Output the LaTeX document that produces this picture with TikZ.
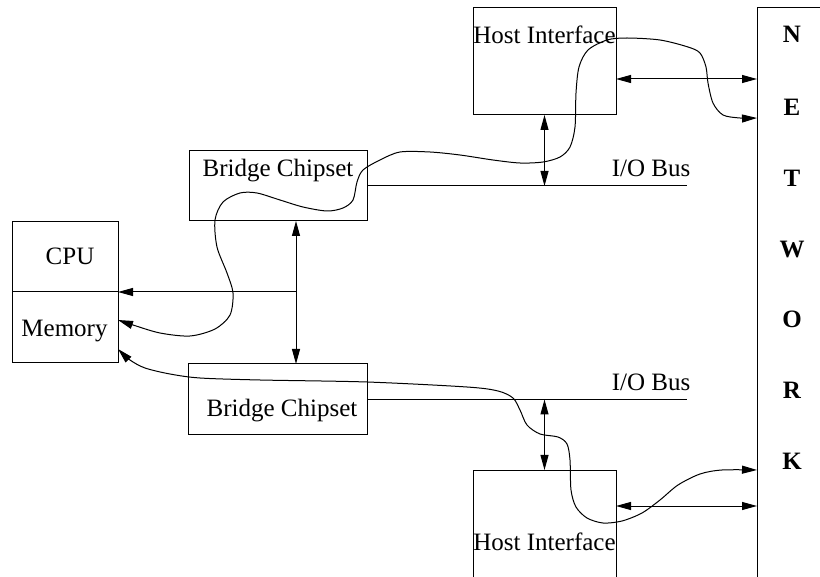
\documentclass[tikz,border=0pt]{standalone}
\usepackage{fontspec}
\setmainfont{Liberation Serif}
\usetikzlibrary{arrows.meta}
\begin{document}
\begin{tikzpicture}[x=1pt,y=-1pt,
  box/.style={draw,line width=1pt,inner sep=0pt,outer sep=0pt,anchor=north west},
  lbl/.style={anchor=base,inner sep=0pt,font=\fontsize{25}{30}\selectfont},
  netl/.style={anchor=base,inner sep=0pt,font=\fontsize{25}{30}\selectfont\bfseries},
  wire/.style={line width=1pt},
  tip/.style={-{Triangle[length=15pt,width=8pt]}},
  dtip/.style={{Triangle[length=15pt,width=8pt]}-{Triangle[length=15pt,width=8pt]}}]
\useasboundingbox (0,0) rectangle (820,577);
\clip (0,0) rectangle (820,577);

% boxes
\node[box,minimum width=143pt,minimum height=107pt] (hi1) at (473,8) {};
\node[box,minimum width=143pt,minimum height=120pt] (hi2) at (473,470) {};
\node[box,minimum width=80pt,minimum height=580pt] (net) at (757,8) {};
\node[box,minimum width=178pt,minimum height=70pt] (bc1) at (189,151) {};
\node[box,minimum width=179pt,minimum height=71pt] (bc2) at (188,364) {};
\node[box,minimum width=106pt,minimum height=70pt] (cpu) at (12,222) {};
\node[box,minimum width=106pt,minimum height=71pt] (mem) at (12,292) {};

% labels
\node[lbl] (hi1t) at (544.5,44) {Host Interface};
\node[lbl] (hi2t) at (544.5,550) {Host Interface};
\node[lbl] (bc1t) at (278,177) {Bridge Chipset};
\node[lbl] (bc2t) at (282,417) {Bridge Chipset};
\node[lbl] (cput) at (70,265) {CPU};
\node[lbl] (memt) at (64.5,337) {Memory};
\node[lbl] (io1t) at (651,177) {I/O Bus};
\node[lbl] (io2t) at (651,391) {I/O Bus};
\foreach \c/\y in {N/43,E/116,T/187,W/258,O/328,R/399,K/470}
  \node[netl] (net\c) at (792,\y) {\c};

% buses
\draw[wire] (bc1.east) -- ++(320,0) coordinate (bus1);
\draw[wire] (bc2.east) -- ++(320,0) coordinate (bus2);

% straight links
\draw[wire,dtip] (hi1.south) -- (hi1.south |- bus1);
\draw[wire,dtip] (hi2.north) -- (hi2.north |- bus2);
\draw[wire,dtip] (hi1.east |- 0,79) -- (net.west |- 0,79);
\draw[wire,dtip] (hi2.east |- 0,506) -- (net.west |- 0,506);
\coordinate (cross) at (296,292);
\draw[wire,dtip] (bc1.south -| cross) -- (bc2.north -| cross);
\draw[wire,tip] (cross) -- (cpu.south east);

% data paths
\draw[wire,dtip] plot[smooth] coordinates {
  (net.west |- 0,118) (740,118) (723,115) (713,103) (708,83) (706,67)
  (700,53) (688,47) (660,40) (627,38) (607,40) (588,50) (579,67)
  (576,93) (575,127) (570,147) (560,157) (543,162) (520,163) (493,160)
  (460,155) (430,152) (400,152) (380,160) (363,170) (357,182) (353,200)
  (343,208) (327,211) (303,207) (280,200) (257,193) (240,193) (223,202)
  (215,220) (217,247) (227,273) (233,293) (230,315) (215,329) (190,336)
  (160,333) (133,325) (mem.east |- 0,320)};
\draw[wire,dtip] plot[smooth] coordinates {
  (mem.east |- 0,349) (130,360) (145,368) (170,374) (200,378) (260,380)
  (367,382) (467,387) (498,391) (513,398) (520,410) (527,425) (540,434)
  (558,437) (567,444) (570,460) (571,490) (576,507) (587,518) (603,523)
  (622,521) (642,513) (660,500) (678,485) (700,474) (722,470)
  (net.west |- 0,470)};
\end{tikzpicture}
\end{document}
